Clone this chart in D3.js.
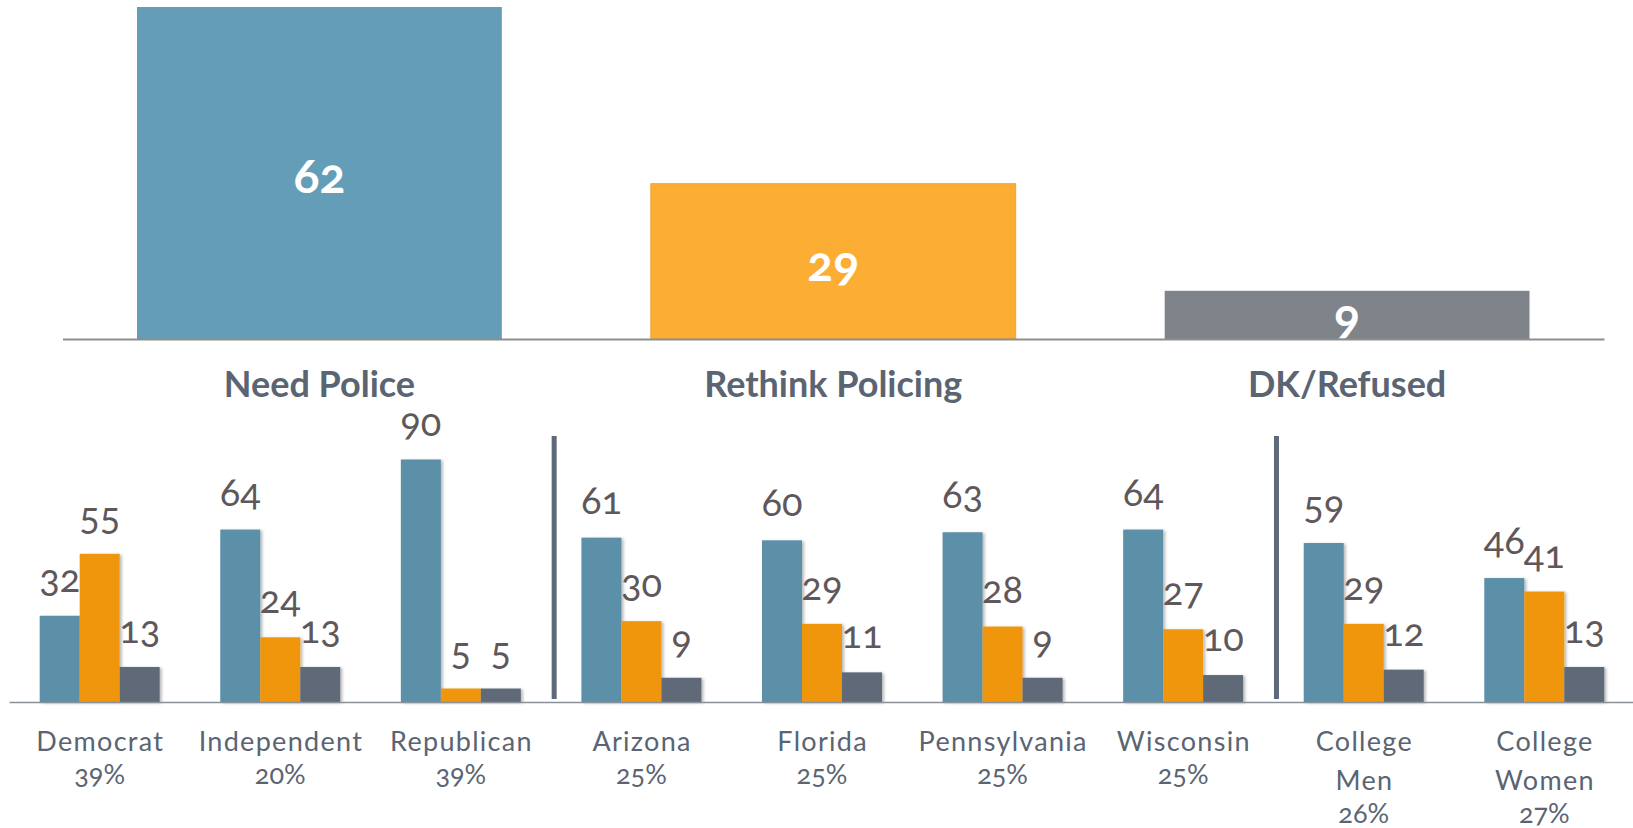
<!DOCTYPE html>
<html><head><meta charset="utf-8">
<script src="https://cdn.jsdelivr.net/npm/d3@7"></script>
<style>
  body { margin: 0; background: #fff; }
  svg text { font-family: "Lato", "Noto Sans", sans-serif; font-variant-numeric: oldstyle-nums; font-feature-settings: "onum" 1; }
</style></head>
<body><svg id="chart" width="1633" height="828"></svg>
<script>
// Overall result
const topCategories = ["Need Police", "Rethink Policing", "DK/Refused"];
const topValues = [62, 29, 9];
const topColors = ["#639db7", "#fcad33", "#7f838a"];

// Breakdown by subgroup
const groups = ["Democrat", "Independent", "Republican", "Arizona", "Florida", "Pennsylvania", "Wisconsin", "College Men", "College Women"];
const groupShares = ["39%", "20%", "39%", "25%", "25%", "25%", "25%", "26%", "27%"];
const needPolice = [32, 64, 90, 61, 60, 63, 64, 59, 46];
const rethinkPolicing = [55, 24, 5, 30, 29, 28, 27, 29, 41];
const dkRefused = [13, 13, 5, 9, 11, 9, 10, 12, 13];
const seriesNames = ["Need Police", "Rethink Policing", "DK/Refused"];
const seriesColors = ["#5b8fa8", "#ef960d", "#5e6978"];
// groups followed by a divider line
const dividersAfter = ["Republican", "Wisconsin"];

const svg = d3.select("#chart");
const labelColor = "#5a6472";
const valueColor = "#5f585b";

const defs = svg.append("defs");
defs.append("filter").attr("id", "barShadow").attr("x", "-20%").attr("y", "-20%").attr("width", "150%").attr("height", "140%")
  .append("feDropShadow").attr("dx", 2).attr("dy", 1).attr("stdDeviation", 1.4)
  .attr("flood-color", "#000").attr("flood-opacity", 0.28);

// ---------- top chart ----------
const xTop = d3.scaleBand().domain(topCategories).range([62.5, 1604]).paddingInner(0.29).paddingOuter(0.145);
const yTop = d3.scaleLinear().domain([0, d3.max(topValues)]).range([339, 7]);
const topData = topCategories.map((c, i) => ({ c, v: topValues[i], col: topColors[i] }));

const gTop = svg.append("g");
gTop.selectAll("rect").data(topData).join("rect")
  .attr("x", d => xTop(d.c)).attr("width", xTop.bandwidth())
  .attr("y", d => yTop(d.v)).attr("height", d => yTop(0) - yTop(d.v))
  .attr("fill", d => d.col)
  .attr("stroke", (d, i) => i === 1 ? "#eea22e" : "none").attr("stroke-width", 1);

gTop.selectAll("text.val").data(topData).join("text").attr("class", "val")
  .attr("x", d => xTop(d.c) + xTop.bandwidth() / 2)
  .attr("y", d => (yTop(d.v) + yTop(0)) / 2 + 19.5)
  .attr("text-anchor", "middle").attr("fill", "#fff")
  .style("font-size", "48px").style("font-weight", "bold")
  .text(d => d.v);

// category axis for the top chart
const axTop = d3.axisBottom(xTop).tickSize(0).tickPadding(0);
const gAxTop = svg.append("g").attr("transform", `translate(0,${yTop(0)})`).call(axTop);
gAxTop.select(".domain").attr("stroke", "#8e8e8e").attr("stroke-width", 2);
gAxTop.selectAll(".tick text")
  .attr("y", 58).attr("dy", null)
  .attr("fill", labelColor).style("font-size", "36px").style("font-weight", "bold")
  .style("font-family", "Lato, 'Noto Sans', sans-serif");

// ---------- bottom chart ----------
const x0 = d3.scaleBand().domain(groups).range([9, 1635]).paddingInner(0.3355).paddingOuter(0.17);
const x1 = d3.scaleBand().domain(seriesNames).range([0, x0.bandwidth()]);
const yBot = d3.scaleLinear().domain([0, d3.max(needPolice)]).range([702, 459.5]);
const colorBy = d3.scaleOrdinal().domain(seriesNames).range(seriesColors);

const rows = groups.map((g, i) => ({
  g, share: groupShares[i],
  vals: [
    { s: seriesNames[0], v: needPolice[i] },
    { s: seriesNames[1], v: rethinkPolicing[i] },
    { s: seriesNames[2], v: dkRefused[i] }
  ]
}));

const gBot = svg.append("g");
const gg = gBot.selectAll("g.grp").data(rows).join("g").attr("class", "grp")
  .attr("transform", d => `translate(${x0(d.g)},0)`);

gg.selectAll("rect").data(d => d.vals).join("rect")
  .attr("x", d => x1(d.s)).attr("width", x1.bandwidth())
  .attr("y", d => yBot(d.v)).attr("height", d => yBot(0) - yBot(d.v))
  .attr("fill", d => colorBy(d.s))
  .attr("filter", "url(#barShadow)");

gg.selectAll("text.val").data(d => d.vals).join("text").attr("class", "val")
  .attr("x", d => x1(d.s) + x1.bandwidth() / 2)
  .attr("y", d => yBot(d.v) - 24)
  .attr("text-anchor", "middle").attr("fill", valueColor)
  .style("font-size", "38px")
  .text(d => d.v);

// baseline
const axBot = d3.axisBottom(x0).tickSize(0).tickFormat("");
const gAxBot = svg.append("g").attr("transform", `translate(0,${yBot(0)})`).call(axBot);
gAxBot.select(".domain").attr("stroke", "#8a9098").attr("stroke-width", 1.5);

// group labels (two-word college groups wrap onto two lines) and share
rows.forEach(r => {
  const cx = x0(r.g) + x0.bandwidth() / 2;
  const words = r.g.startsWith("College") ? r.g.split(" ") : [r.g];
  const t = svg.append("text").attr("text-anchor", "middle").attr("fill", labelColor)
    .style("font-size", "27px").style("letter-spacing", "1.3px");
  words.forEach((w, k) => {
    t.append("tspan").attr("x", cx + 0.65).attr("y", 751 + k * 38.5).text(w);
  });
  svg.append("text").attr("text-anchor", "middle").attr("fill", labelColor)
    .attr("x", cx).attr("y", words.length > 1 ? 823 : 784)
    .style("font-size", "27px").text(r.share);
});

// dividers between group families
dividersAfter.forEach(g => {
  const i = groups.indexOf(g);
  const xa = x0(groups[i]) + x0.bandwidth();
  const xb = x0(groups[i + 1]);
  const xm = xa + 0.55 * (xb - xa);
  svg.append("line").attr("x1", xm).attr("x2", xm).attr("y1", 436).attr("y2", 699)
    .attr("stroke", "#5e6a7a").attr("stroke-width", 5);
});
</script></body></html>
